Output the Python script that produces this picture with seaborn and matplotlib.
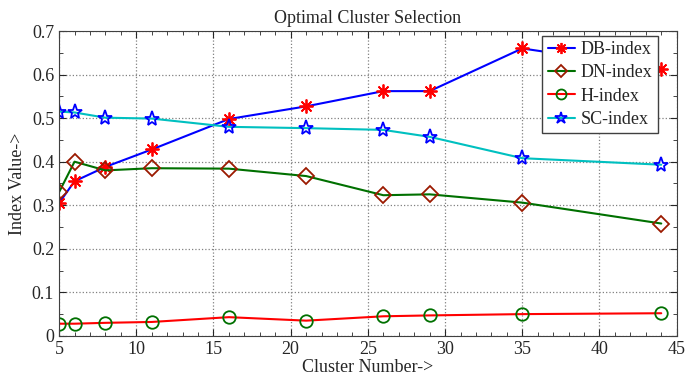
import matplotlib.pyplot as plt
import seaborn as sns
import pandas as pd
import numpy as np
from matplotlib.ticker import MultipleLocator, FormatStrFormatter

clusters = [5, 6, 8, 11, 16, 21, 26, 29, 35, 44]
db_index = [0.305, 0.355, 0.388, 0.428, 0.498, 0.527, 0.562, 0.562, 0.660, 0.613]
dn_index = [0.330, 0.400, 0.380, 0.385, 0.384, 0.367, 0.323, 0.325, 0.306, 0.258]
h_index = [0.028, 0.028, 0.030, 0.032, 0.043, 0.035, 0.045, 0.047, 0.050, 0.052]
sc_index = [0.515, 0.513, 0.501, 0.499, 0.480, 0.477, 0.473, 0.457, 0.408, 0.393]

series = {"DB-index": db_index, "DN-index": dn_index, "H-index": h_index, "SC-index": sc_index}
data = pd.concat(
    [pd.DataFrame({"cluster": clusters, "value": v, "index": k}) for k, v in series.items()],
    ignore_index=True,
)

sns.set_style("ticks")
plt.rcParams["font.family"] = ["Liberation Serif", "DejaVu Serif"]
plt.rcParams["xtick.direction"] = "in"
plt.rcParams["ytick.direction"] = "in"

styles = {
    # name: (line colour, marker, marker colour, filled, size)
    "DB-index": ("#0000ff", (8, 2, 0), "#ff0000", True, 10),
    "DN-index": ("#007000", "D", "#9b1a00", False, 8),
    "H-index": ("#ff0000", "o", "#007000", False, 9),
    "SC-index": ("#00c0c0", "*", "#0000ff", False, 11),
}

fig = plt.figure(figsize=(6.87, 3.83), dpi=100)
ax = fig.add_axes([0.086, 0.123, 0.899, 0.796])

for name, (lc, mk, mc, filled, ms) in styles.items():
    sub = data[data["index"] == name]
    sns.lineplot(
        data=sub, x="cluster", y="value", ax=ax, color=lc, linewidth=1.5,
        marker=mk, markersize=ms,
        markerfacecolor=mc if filled else "none", markeredgecolor=mc,
        markeredgewidth=1.3, label=name,
    )

ax.set_xlim(5, 45)
ax.set_ylim(0, 0.7)
ax.xaxis.set_major_locator(MultipleLocator(5))
ax.xaxis.set_minor_locator(MultipleLocator(1))
ax.yaxis.set_major_locator(MultipleLocator(0.1))
ax.yaxis.set_minor_locator(MultipleLocator(0.05))
ax.yaxis.set_major_formatter(FormatStrFormatter("%g"))
ax.tick_params(which="both", top=True, right=True, labelsize=13)
ax.tick_params(which="major", length=5)
ax.tick_params(which="minor", length=3)
ax.grid(True, which="major", linestyle=":", color="#808080", linewidth=0.9)
for s in ax.spines.values():
    s.set_color("#404040")

ax.set_title("Optimal Cluster Selection", fontsize=13)
ax.set_xlabel("Cluster Number->", fontsize=13, labelpad=1)
ax.set_ylabel("Index Value->", fontsize=13, labelpad=4)

leg = ax.legend(loc="upper right", bbox_to_anchor=(0.969, 0.985), fontsize=13,
                fancybox=False, framealpha=1, edgecolor="#404040",
                borderaxespad=0, handlelength=1.5, markerscale=0.8,
                labelspacing=0.35, borderpad=0.3, handletextpad=0.3)
leg.get_frame().set_linewidth(1.0)

fig.savefig("out.png", dpi=100)
